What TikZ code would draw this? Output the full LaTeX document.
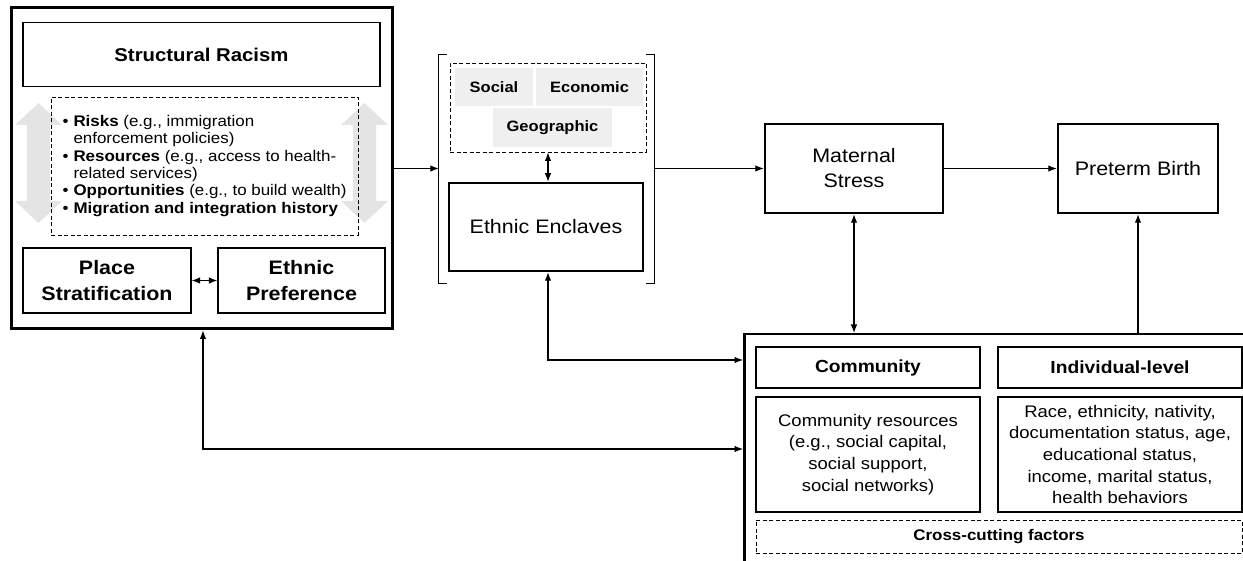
\documentclass[tikz,border=0pt]{standalone}
\usepackage{fontspec}
\setmainfont[FakeStretch=1.1]{Liberation Sans}
\usepackage{xcolor}
\usepackage{tikz}
\usetikzlibrary{positioning,arrows.meta,calc}
\definecolor{tagfill}{HTML}{EFEFEF}
\definecolor{arrowgray}{HTML}{E4E4E4}
\newcommand{\bul}{\makebox[11pt][l]{\textbullet}}
\newcommand{\ind}{\hspace*{11pt}}

\begin{document}
\begin{tikzpicture}[
    x=1pt, y=-1pt,
    box/.style={rectangle, draw, line width=1.2pt, align=center, inner sep=0pt},
    heavy/.style={box, line width=2.5pt},
    dashbox/.style={rectangle, draw, dash pattern=on 4pt off 2.5pt, line width=0.9pt, inner sep=0pt},
    tag/.style={rectangle, fill=tagfill, inner sep=0pt, font=\bfseries\fontsize{15}{18}\selectfont},
    big/.style={font=\fontsize{19.5}{25}\selectfont},
    bigb/.style={font=\bfseries\fontsize{19.5}{25.5}\selectfont},
    head/.style={box, line width=2pt, font=\bfseries\fontsize{17.5}{21}\selectfont},
    body/.style={box, line width=2pt, font=\fontsize{16.8}{21.7}\selectfont},
    arrow/.style={->, >={Latex[length=8.5pt,width=6.5pt]}, line width=1.1pt},
    both/.style={arrow, <->}
]
\useasboundingbox (0,0) rectangle (1243,561);
\clip (0,0) rectangle (1243,561);

% Left block: structural racism
\node[box, line width=3pt, minimum width=381, minimum height=321] (racismframe) at (201.5,168.5) {};
\node[box, font=\bfseries\fontsize{18.5}{22}\selectfont, minimum width=357, minimum height=64] (racism) at (201.5,54.5) {Structural Racism};
\foreach \cx in {38.5,364.5}
  \fill[arrowgray] (\cx,103) -- ++(23.5,22) -- ++(-12,0) -- ++(0,76) -- ++(12,0) -- (\cx,223)
    -- ++(-23.5,-22) -- ++(12,0) -- ++(0,-76) -- ++(-12,0) -- cycle;
\node[dashbox, minimum width=307, minimum height=138, align=left, font=\fontsize{15.4}{17.3}\selectfont] (pathways) at (204.5,166)
  {\bul\textbf{Risks} (e.g., immigration\\
   \ind enforcement policies)\\
   \bul\textbf{Resources} (e.g., access to health-\\
   \ind related services)\\
   \bul\textbf{Opportunities} (e.g., to build wealth)\\
   \bul\textbf{Migration and integration history}};
\node[box, bigb, minimum width=168, minimum height=65] (place) at (107,280.5) {Place\\Stratification};
\node[box, bigb, minimum width=167, minimum height=65] (preference) at (301.5,280.5) {Ethnic\\Preference};
\draw[both] (place) -- (preference);

% Middle block: ethnic enclaves
\node[minimum width=215, minimum height=228, inner sep=0pt] (enclavegroup) at (546.5,169) {};
\draw[line width=0.8pt] ([xshift=8pt]enclavegroup.north west) -- (enclavegroup.north west) -- (enclavegroup.south west) -- ([xshift=8pt]enclavegroup.south west);
\draw[line width=0.8pt] ([xshift=-8pt]enclavegroup.north east) -- (enclavegroup.north east) -- (enclavegroup.south east) -- ([xshift=-8pt]enclavegroup.south east);
\node[dashbox, minimum width=196, minimum height=89] (dimensions) at (548,107.5) {};
\node[tag, minimum width=78, minimum height=38] (social) at (494,87) {Social};
\node[tag, minimum width=107, minimum height=38] (economic) at (589.5,87) {Economic};
\node[tag, minimum width=119, minimum height=39] (geographic) at (552.5,127.5) {Geographic};
\node[heavy, big, minimum width=194, minimum height=88] (enclaves) at (546,227) {Ethnic Enclaves};
\draw[both] (dimensions.south) -- (dimensions.south |- enclaves.north);

% Outcomes
\node[heavy, big, minimum width=178, minimum height=89] (stress) at (854,168.5) {Maternal\\Stress};
\node[heavy, big, minimum width=160, minimum height=89] (preterm) at (1138,168.5) {Preterm Birth};

% Factors block
\node[box, line width=2.5pt, anchor=north west, minimum width=560, minimum height=280] (factors) at (743,333) {};
\node[head, minimum width=224, minimum height=41] (community) at (868,367.5) {Community};
\node[head, minimum width=244, minimum height=41] (individual) at (1120,367.5) {Individual-level};
\node[body, minimum width=224, minimum height=115] (resources) at (868,454.5) {Community resources\\(e.g., social capital,\\social support,\\social networks)};
\node[body, minimum width=244, minimum height=115] (traits) at (1120,454.5) {Race, ethnicity, nativity,\\documentation status, age,\\educational status,\\income, marital status,\\health behaviors};
\node[dashbox, font=\bfseries\fontsize{15.4}{18}\selectfont, minimum width=486, minimum height=33] (crosscut) at (999,536.5) {Cross-cutting factors};

% Arrows
\draw[arrow] (racismframe.east) -- (racismframe.east -| enclavegroup.west);
\draw[arrow] (enclavegroup.east |- stress.west) -- (stress.west);
\draw[arrow] (stress) -- (preterm);
\draw[both] (stress.south) -- (stress.south |- factors.north);
\draw[arrow] (preterm.south |- factors.north) -- (preterm.south);
\draw[both] ([xshift=2pt]enclaves.south) |- (factors.north west |- 0,360);
\draw[both] ([xshift=1.5pt]racismframe.south) |- (factors.north west |- 0,449);

\end{tikzpicture}
\end{document}
